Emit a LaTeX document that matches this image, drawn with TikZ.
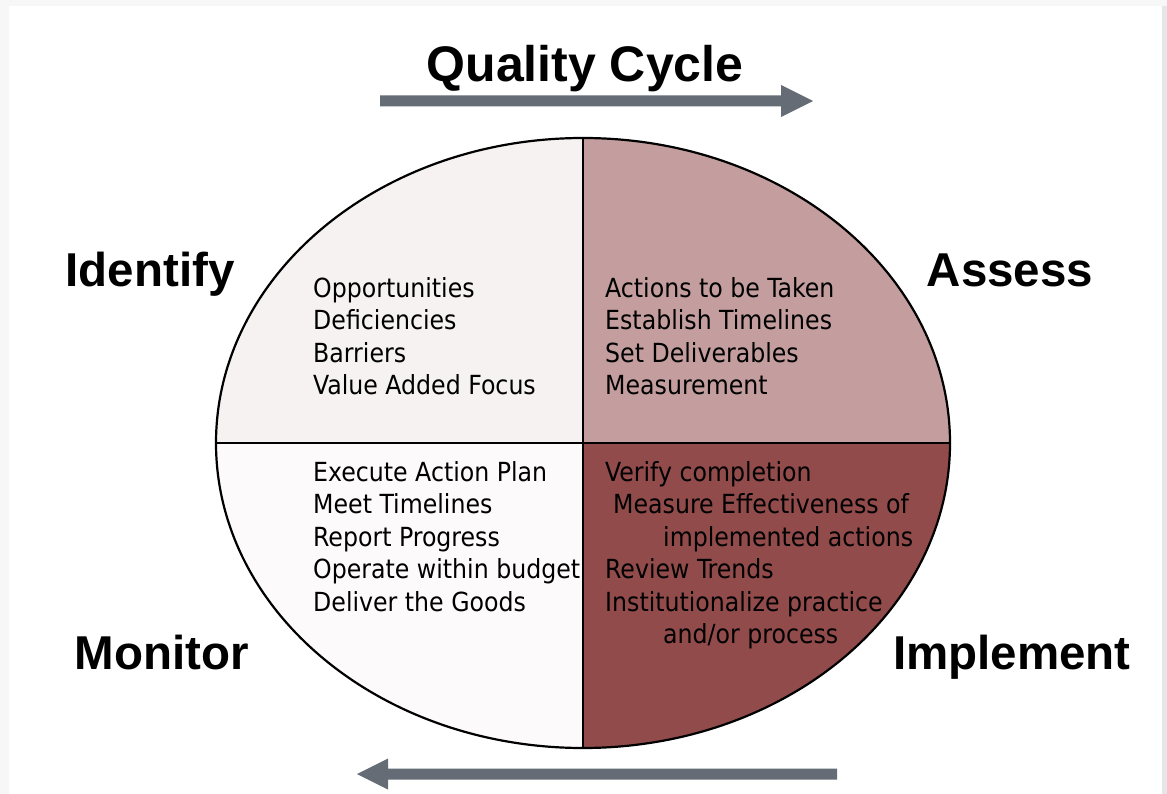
\documentclass[tikz,border=0pt]{standalone}
\usepackage{fontspec}
\setmainfont{DejaVu Sans Condensed}
\newfontfamily\headfont{Liberation Sans}
\definecolor{pagegray}{HTML}{F7F7F7}
\definecolor{edgegray}{HTML}{E6E6E6}
\definecolor{arrowgray}{HTML}{656C75}
\definecolor{idfill}{HTML}{F5F2F1}
\definecolor{asfill}{HTML}{C49E9E}
\definecolor{mofill}{HTML}{FCFAFB}
\definecolor{imfill}{HTML}{924B4B}
\begin{document}
\begin{tikzpicture}[x=1pt,y=-1pt,line join=round,
	head/.style={font=\headfont\bfseries\fontsize{47.5}{56}\selectfont,inner sep=0pt,anchor=base},
	body/.style={font=\fontsize{26.3}{32.5}\selectfont,align=left,inner sep=0pt,anchor=north west},
	cyclearrow/.style={fill=arrowgray}]
	\useasboundingbox (0,0) rectangle (1167,794);
	% page
	\fill[pagegray] (0,0) rectangle (1167,794);
	\fill[white] (9,6) rectangle (1162,794);
	\fill[edgegray] (1162,6) rectangle (1167,794);
	% the four quarters of the cycle
	\begin{scope}
		\clip (583,443) ellipse [x radius=367,y radius=305];
		\fill[idfill] (200,130) rectangle (583,443);
		\fill[asfill] (583,130) rectangle (960,443);
		\fill[mofill] (200,443) rectangle (583,760);
		\fill[imfill] (583,443) rectangle (960,760);
	\end{scope}
	\draw[line width=2pt] (216,443)--(950,443);
	\draw[line width=2pt] (583,138)--(583,748);
	\draw[line width=2.2pt] (583,443) ellipse [x radius=367,y radius=305];
	% direction arrows
	\fill[cyclearrow] (380,95.5)--(781,95.5)--(781,85)--(813,101)--(781,117)--(781,106.5)--(380,106.5)--cycle;
	\fill[cyclearrow] (837,768.5)--(388,768.5)--(388,758.5)--(357,774)--(388,789.5)--(388,779.5)--(837,779.5)--cycle;
	% headings
	\node[head,font=\headfont\bfseries\fontsize{50}{58}\selectfont] (title) at (585,82) {Quality Cycle};
	\node[head] (identify) at (150,287) {Identify};
	\node[head] (assess) at (1010,287) {Assess};
	\node[head] (monitor) at (162,669) {Monitor};
	\node[head] (implement) at (1012,669) {Implement};
	% quarter texts
	\node[body] (idtxt) at (313,277) {Opportunities\\Deficiencies\\Barriers\\Value Added Focus};
	\node[body] (astxt) at (605,277) {Actions to be Taken\\Establish Timelines\\Set Deliverables\\Measurement};
	\node[body] (motxt) at (313,461) {Execute Action Plan\\Meet Timelines\\Report Progress\\Operate within budget\\Deliver the Goods};
	\node[body] (imtxt) at (605,461) {Verify completion\\\hspace*{8pt}Measure Effectiveness of\\\hspace*{58pt}implemented actions\\Review Trends\\Institutionalize practice\\\hspace*{58pt}and/or process};
\end{tikzpicture}
\end{document}
